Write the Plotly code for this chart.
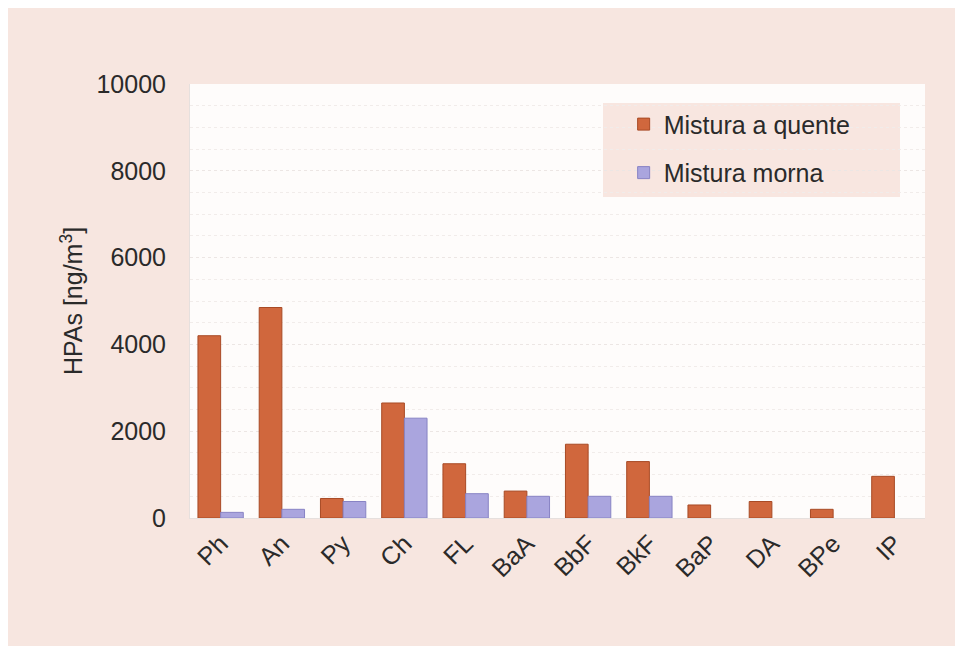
import plotly.graph_objects as go

categories = ["Ph", "An", "Py", "Ch", "FL", "BaA", "BbF", "BkF", "BaP", "DA", "BPe", "IP"]
quente = [4200, 4850, 450, 2650, 1250, 620, 1700, 1300, 300, 380, 200, 960]
morna = [130, 200, 380, 2300, 560, 500, 500, 500, None, None, None, None]
y_ticks = [0, 2000, 4000, 6000, 8000, 10000]

fig = go.Figure()
fig.add_trace(go.Bar(
    x=categories, y=quente, name="Mistura a quente",
    marker=dict(color="#d0673d", line=dict(color="#a84a25", width=1)),
    legendgroup="a",
))
fig.add_trace(go.Bar(
    x=categories, y=morna, name="Mistura morna",
    marker=dict(color="#aaa5de", line=dict(color="#8883c4", width=1)),
    legendgroup="b",
))

font_family = "Liberation Sans, Arial, sans-serif"

# page offset of 8px (body margin) compensated in margins
fig.update_layout(
    width=963, height=646,
    margin=dict(l=182, r=46, t=76, b=136),
    paper_bgcolor="#f7e6e0",
    plot_bgcolor="#fefcfb",
    barmode="group",
    bargap=0.26,
    bargroupgap=0.0,
    font=dict(family=font_family, size=25, color="#2a2a2a"),
    legend=dict(
        x=0.59, y=0.96, xanchor="left", yanchor="top",
        bgcolor="rgba(0,0,0,0)",
        font=dict(size=25, color="#2a2a2a"),
        tracegroupgap=13,
        traceorder="grouped",
        itemwidth=30,
    ),
    shapes=[dict(
        type="rect", xref="paper", yref="paper",
        x0=(603 - 190) / 735, x1=(900 - 190) / 735,
        y0=(518 - 197) / 434, y1=(518 - 103) / 434,
        fillcolor="#f8e6e0", line=dict(width=0), layer="below",
    )],
)

fig.update_yaxes(
    range=[0, 10000],
    tickvals=y_ticks,
    ticktext=[str(v) for v in y_ticks],
    showgrid=True, gridcolor="#ece6e4", gridwidth=1, griddash="dot",
    minor=dict(dtick=500, showgrid=True, gridcolor="#f1ecea", griddash="dot"),
    zeroline=False,
    showline=True, linecolor="#e6e0de",
    ticks="", ticklabelstandoff=18,
    title=dict(text="HPAs [ng/m<sup>3</sup>]", font=dict(size=25), standoff=6),
    tickfont=dict(size=25),
)
fig.update_xaxes(
    tickangle=-45,
    tickfont=dict(size=25),
    showline=True, linecolor="#e6e0de",
    ticks="", ticklabelstandoff=0,
)

fig.write_html("out.html")
